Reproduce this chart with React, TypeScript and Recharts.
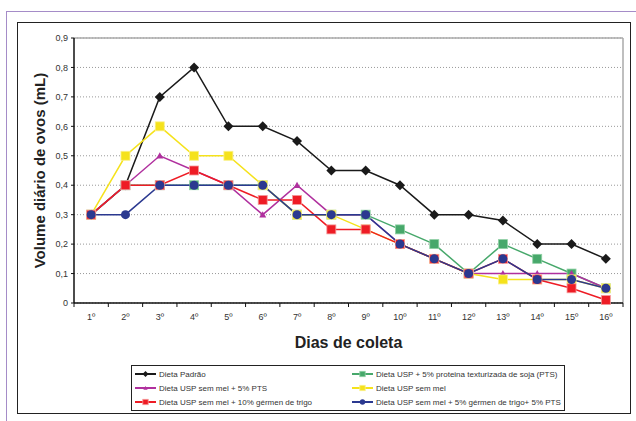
import React from 'react';
import { CartesianGrid, Line, LineChart, ReferenceLine, XAxis, YAxis } from 'recharts';

const DAYS = [1, 2, 3, 4, 5, 6, 7, 8, 9, 10, 11, 12, 13, 14, 15, 16];
const PADRAO = [0.3, 0.4, 0.7, 0.8, 0.6, 0.6, 0.55, 0.45, 0.45, 0.4, 0.3, 0.3, 0.28, 0.2, 0.2, 0.15];
const PTS = [0.3, 0.4, 0.4, 0.4, 0.4, 0.4, 0.3, 0.3, 0.3, 0.25, 0.2, 0.1, 0.2, 0.15, 0.1, 0.05];
const SEM_MEL_PTS = [0.3, 0.4, 0.5, 0.45, 0.4, 0.3, 0.4, 0.3, 0.3, 0.2, 0.15, 0.1, 0.1, 0.1, 0.1, 0.05];
const SEM_MEL = [0.3, 0.5, 0.6, 0.5, 0.5, 0.4, 0.3, 0.3, 0.25, 0.2, 0.15, 0.1, 0.08, 0.08, 0.08, 0.05];
const GERMEN_10 = [0.3, 0.4, 0.4, 0.45, 0.4, 0.35, 0.35, 0.25, 0.25, 0.2, 0.15, 0.1, 0.15, 0.08, 0.05, 0.01];
const GERMEN_PTS = [0.3, 0.3, 0.4, 0.4, 0.4, 0.4, 0.3, 0.3, 0.3, 0.2, 0.15, 0.1, 0.15, 0.08, 0.08, 0.05];

const Y_TICKS = [0, 0.1, 0.2, 0.3, 0.4, 0.5, 0.6, 0.7, 0.8, 0.9];
// integer ticks carry labels, half ticks are the category separators
const X_TICKS = [0.5, 1, 1.5, 2, 2.5, 3, 3.5, 4, 4.5, 5, 5.5, 6, 6.5, 7, 7.5, 8, 8.5, 9, 9.5, 10, 10.5, 11, 11.5, 12, 12.5, 13, 13.5, 14, 14.5, 15, 15.5, 16, 16.5];

type Shape = 'diamond' | 'square' | 'triangle' | 'circle';

interface SeriesDef {
  key: string;
  name: string;
  color: string;
  edge: string;
  shape: Shape;
  values: number[];
}

const SERIES: SeriesDef[] = [
  { key: 'padrao', name: 'Dieta Padrão', color: '#1a1a1a', edge: '#1a1a1a', shape: 'diamond', values: PADRAO },
  { key: 'pts', name: 'Dieta USP + 5% proteina texturizada de soja (PTS)', color: '#47a86b', edge: '#8fd0a4', shape: 'square', values: PTS },
  { key: 'semMelPts', name: 'Dieta USP sem mel + 5% PTS', color: '#b0309e', edge: '#b0309e', shape: 'triangle', values: SEM_MEL_PTS },
  { key: 'semMel', name: 'Dieta USP sem mel', color: '#f5e21c', edge: '#faf08a', shape: 'square', values: SEM_MEL },
  { key: 'germen10', name: 'Dieta USP sem mel + 10% gérmen de trigo', color: '#ee1c25', edge: '#f59a9a', shape: 'square', values: GERMEN_10 },
  { key: 'germenPts', name: 'Dieta USP sem mel + 5% gérmen de trigo+ 5% PTS', color: '#2b3990', edge: '#2b3990', shape: 'circle', values: GERMEN_PTS },
];

const rows = DAYS.map((d, i) => {
  const row: Record<string, number> = { day: d };
  SERIES.forEach((s) => { row[s.key] = s.values[i]; });
  return row;
});

const FONT = '"Liberation Sans", Arial, sans-serif';

function Marker({ shape, color, edge, cx, cy, small }: { shape: Shape; color: string; edge: string; cx: number; cy: number; small?: boolean }) {
  const k = small ? 0.6 : 1;
  if (shape === 'diamond') {
    const r = 5 * k;
    return <polygon points={`${cx},${cy - r} ${cx + r},${cy} ${cx},${cy + r} ${cx - r},${cy}`} fill={color} />;
  }
  if (shape === 'square') {
    const h = 4.5 * k;
    return <rect x={cx - h} y={cy - h} width={h * 2} height={h * 2} fill={color} stroke={edge} strokeWidth={0.8} />;
  }
  if (shape === 'triangle') {
    const h = 3.5 * k;
    return <polygon points={`${cx},${cy - h} ${cx + h},${cy + h * 0.8} ${cx - h},${cy + h * 0.8}`} fill={color} />;
  }
  return <circle cx={cx} cy={cy} r={4.5 * k} fill={color} />;
}

function makeDot(s: SeriesDef) {
  return (props: any) => {
    const { cx, cy, index } = props;
    if (cx == null || cy == null) return <g key={`${s.key}-${index}`} />;
    return (
      <g key={`${s.key}-${index}`}>
        <Marker shape={s.shape} color={s.color} edge={s.edge} cx={cx} cy={cy} />
      </g>
    );
  };
}

function DayTick(props: any) {
  const { x, y, payload } = props;
  const v = payload.value as number;
  if (Number.isInteger(v)) {
    return (
      <text x={x} y={y + 17} textAnchor="middle" fontSize={9} fill="#333" fontFamily={FONT}>
        {`${v}º`}
      </text>
    );
  }
  return <line x1={x} x2={x} y1={y} y2={y + 4} stroke="#111" strokeWidth={1} />;
}

function LegendBox() {
  return (
    <div
      style={{
        position: 'absolute',
        left: 131,
        top: 365,
        width: 434,
        height: 46,
        border: '1px solid #222',
        boxSizing: 'border-box',
        display: 'grid',
        gridTemplateColumns: '217px 217px',
        gridAutoRows: '14px',
        paddingTop: 1,
        fontFamily: FONT,
        fontSize: 8,
        color: '#333',
      }}
    >
      {SERIES.map((s) => (
        <div key={s.key} style={{ display: 'flex', alignItems: 'center', paddingLeft: 3, whiteSpace: 'nowrap' }}>
          <svg width={21} height={10} style={{ marginRight: 3 }}>
            <line x1={0} x2={21} y1={5} y2={5} stroke={s.color} strokeWidth={2} />
            <Marker shape={s.shape} color={s.color} edge={s.edge} cx={10.5} cy={5} small />
          </svg>
          {s.name}
        </div>
      ))}
    </div>
  );
}

export default function App() {
  return (
    <div style={{ position: 'absolute', left: 0, top: 0, width: 636, height: 421, background: '#fff', overflow: 'hidden' }}>
      <div style={{ position: 'absolute', left: 6, top: 11, width: 640, height: 420, borderTop: '1.5px solid #a58cc8', borderLeft: '1.5px solid #a58cc8' }} />
      <div style={{ position: 'absolute', left: 17, top: 22, width: 614, height: 392, border: '1px solid #222', boxSizing: 'border-box' }} />
      <div style={{ position: 'absolute', left: 0, top: 0 }}>
        <LineChart width={636} height={421} data={rows} margin={{ top: 38, right: 13, left: 0, bottom: 68 }}>
          <CartesianGrid vertical={false} stroke="#999" strokeDasharray="1 2" />
          <ReferenceLine y={0.9} stroke="#aaa" strokeWidth={1.5} />
          <ReferenceLine x={16.5} stroke="#aaa" strokeWidth={1.5} />
          <XAxis
            dataKey="day"
            type="number"
            domain={[0.5, 16.5]}
            ticks={X_TICKS}
            interval={0}
            tick={<DayTick />}
            tickLine={false}
            tickSize={0}
            tickMargin={0}
            height={50}
            axisLine={{ stroke: '#111', strokeWidth: 1.5 }}
            label={{ value: 'Dias de coleta', position: 'insideBottom', offset: 5, fontSize: 16, fontWeight: 'bold', fill: '#222', fontFamily: FONT }}
          />
          <YAxis
            type="number"
            domain={[0, 0.9]}
            ticks={Y_TICKS}
            interval={0}
            width={74}
            tickSize={3}
            tickMargin={3}
            tickFormatter={(v: number) => (v === 0 ? '0' : v.toFixed(1).replace('.', ','))}
            tick={{ fontSize: 9, fill: '#333', fontFamily: FONT }}
            tickLine={{ stroke: '#111' }}
            axisLine={{ stroke: '#111', strokeWidth: 1.5 }}
            label={{ value: 'Volume diário de ovos (mL)', angle: -90, position: 'center', dx: 3, fontSize: 15, fontWeight: 'bold', fill: '#222', fontFamily: FONT }}
          />
          {SERIES.map((s) => (
            <Line
              key={s.key}
              dataKey={s.key}
              name={s.name}
              stroke={s.color}
              strokeWidth={1.5}
              dot={makeDot(s)}
              activeDot={false}
              isAnimationActive={false}
            />
          ))}
        </LineChart>
      </div>
      <LegendBox />
    </div>
  );
}
